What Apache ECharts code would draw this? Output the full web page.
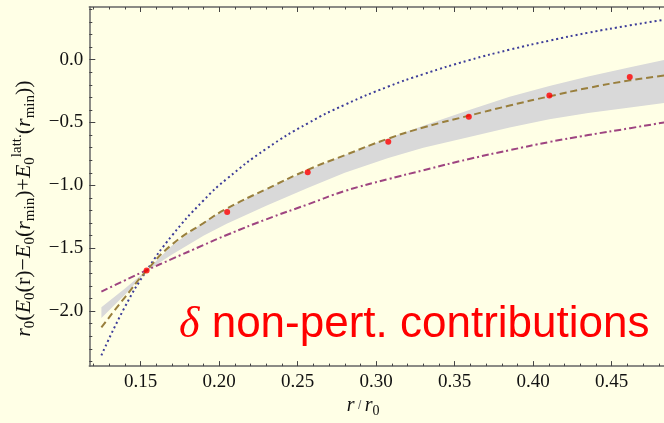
<!DOCTYPE html>
<html lang="en">
<head>
<meta charset="UTF-8">
<title>non-pert. contributions</title>
<script src="https://cdn.jsdelivr.net/npm/echarts@6/dist/echarts.min.js"></script>
<style>
  html, body { margin: 0; padding: 0; background: #ffffe6; }
</style>
</head>
<body>
<div id="main" style="width:664px;height:423px;"></div>
<script>
// r / r0 sample positions for the curves
var rGrid = [0.125, 0.14, 0.1538, 0.17, 0.19, 0.2048, 0.23, 0.2567, 0.28, 0.3077,
             0.33, 0.3593, 0.385, 0.4103, 0.435, 0.4617, 0.49];
// blue dotted curve
var blueCurve = [-2.352, -1.966, -1.678, -1.399, -1.120, -0.949, -0.709, -0.505, -0.359, -0.214,
                 -0.116, -0.004, 0.079, 0.151, 0.214, 0.273, 0.330];
// olive dashed curve
var oliveCurve = [-2.13, -1.89, -1.678, -1.47, -1.30, -1.185, -1.03, -0.875, -0.76, -0.628,
                  -0.54, -0.445, -0.365, -0.292, -0.225, -0.165, -0.115];
// purple dash-dot curve
var purpleCurve = [-1.845, -1.755, -1.675, -1.585, -1.475, -1.395, -1.27, -1.15, -1.045, -0.95,
                   -0.88, -0.79, -0.72, -0.655, -0.60, -0.545, -0.485];
// gray band edges
var bandUpper = [-1.97, -1.82, -1.678, -1.478, -1.295, -1.185, -1.03, -0.88, -0.76, -0.625,
                 -0.525, -0.40, -0.295, -0.21, -0.135, -0.06, 0.015];
var bandLower = [-2.055, -1.87, -1.682, -1.55, -1.40, -1.306, -1.162, -1.018, -0.90, -0.782,
                 -0.70, -0.615, -0.54, -0.475, -0.425, -0.38, -0.335];
// lattice points
var latticeR = [0.1538, 0.2051, 0.2564, 0.3077, 0.3590, 0.4103, 0.4615];
var latticeE = [-1.678, -1.212, -0.895, -0.654, -0.455, -0.285, -0.138];

// ticks
var xMajor = [0.15, 0.20, 0.25, 0.30, 0.35, 0.40, 0.45];
var xMinor = [0.12, 0.13, 0.14, 0.16, 0.17, 0.18, 0.19, 0.21, 0.22, 0.23, 0.24, 0.26, 0.27, 0.28, 0.29,
              0.31, 0.32, 0.33, 0.34, 0.36, 0.37, 0.38, 0.39, 0.41, 0.42, 0.43, 0.44, 0.46, 0.47, 0.48];
var yMajor = [-2.0, -1.5, -1.0, -0.5, 0.0];
var yMinor = [-2.4, -2.3, -2.2, -2.1, -1.9, -1.8, -1.7, -1.6, -1.4, -1.3, -1.2, -1.1,
              -0.9, -0.8, -0.7, -0.6, -0.4, -0.3, -0.2, -0.1, 0.1, 0.2, 0.3, 0.4];

var xMin = 0.1173, xMax = 0.4833;
var yMin = -2.4375, yMax = 0.4187;

function pairs(xs, ys) {
    var res = [];
    for (var i = 0; i < xs.length; i++) res.push([xs[i], ys[i]]);
    return res;
}

var axisColor = '#666';
var serif = 'Liberation Serif';

function xAxisDef(pos, ticks, len, showLine, withLabels) {
    return {
        type: 'value', min: xMin, max: xMax, position: pos,
        axisLine: { show: showLine, onZero: false, lineStyle: { color: axisColor, width: 1.5 } },
        axisTick: { show: true, inside: true, length: len, customValues: ticks,
                    lineStyle: { color: '#444', width: 1 } },
        axisLabel: withLabels ? {
            customValues: ticks, margin: 6, color: '#111', fontFamily: serif, fontSize: 19,
            formatter: function (v) { return v.toFixed(2); }
        } : { show: false },
        splitLine: { show: false }
    };
}
function yAxisDef(pos, ticks, len, showLine, withLabels) {
    return {
        type: 'value', min: yMin, max: yMax, position: pos,
        axisLine: { show: showLine, onZero: false, lineStyle: { color: axisColor, width: 1.5 } },
        axisTick: { show: true, inside: true, length: len, customValues: ticks,
                    lineStyle: { color: '#444', width: 1 } },
        axisLabel: withLabels ? {
            customValues: ticks, margin: 6, color: '#111', fontFamily: serif, fontSize: 19,
            formatter: function (v) { return v.toFixed(1).replace('-', '\u2212'); }
        } : { show: false },
        splitLine: { show: false }
    };
}

var xBottom = xAxisDef('bottom', xMajor, 5, true, true);
xBottom.name = '{i|r} / {i|r}{sub|0}';
xBottom.nameLocation = 'middle';
xBottom.nameGap = 26;
xBottom.nameTextStyle = {
    padding: [0, 27, 0, 0],
    rich: {
        i: { fontFamily: serif, fontStyle: 'italic', fontSize: 20, color: '#111', lineHeight: 24 },
        sub: { fontFamily: serif, fontSize: 14, color: '#111', lineHeight: 14, verticalAlign: 'bottom' }
    }
};

var yLeft = yAxisDef('left', yMajor, 6, true, true);
yLeft.name = '{i|r}{sub|0}{n|(}{i|E}{sub|0}{n|(r)\u2212}{i|E}{sub|0}{n|(}{i|r}{sub|min}{n|)+}' +
             '{i|E}{sub|0}{sup|latt.}{n|(}{i|r}{sub|min}{n|))}';
yLeft.nameLocation = 'middle';
yLeft.nameRotate = 90;
yLeft.nameGap = 44;
yLeft.nameTextStyle = {
    padding: [0, 44, 0, 0],
    rich: {
        i: { fontFamily: serif, fontStyle: 'italic', fontSize: 22, color: '#111', lineHeight: 28 },
        n: { fontFamily: serif, fontSize: 22, color: '#111', lineHeight: 28 },
        sub: { fontFamily: serif, fontSize: 15, color: '#111', lineHeight: 15, verticalAlign: 'bottom' },
        sup: { fontFamily: serif, fontSize: 15, color: '#111', lineHeight: 15, verticalAlign: 'top' }
    }
};

// gray band drawn as one polygon: upper edge forward, lower edge back
function renderBand(params, api) {
    var pts = [];
    for (var i = 0; i < rGrid.length; i++) pts.push(api.coord([rGrid[i], bandUpper[i]]));
    for (var j = rGrid.length - 1; j >= 0; j--) pts.push(api.coord([rGrid[j], bandLower[j]]));
    return {
        type: 'polygon',
        shape: { points: pts },
        style: { fill: '#d9d9d9', stroke: null }
    };
}

var chart = echarts.init(document.getElementById('main'));
chart.setOption({
    backgroundColor: '#ffffe6',
    animation: false,
    title: {
        text: '{d|\u03b4} non-pert. contributions',
        left: 179, top: 300, padding: 0,
        textStyle: {
            color: '#ff0000', fontFamily: 'Liberation Sans', fontSize: 44, fontWeight: 'normal', lineHeight: 50,
            rich: {
                d: { fontFamily: serif, fontStyle: 'italic', fontSize: 44, color: '#ff0000', lineHeight: 50 }
            }
        }
    },
    grid: { left: 89.3, right: 0, top: 7, bottom: 52.3, containLabel: false },
    xAxis: [
        xBottom,
        xAxisDef('bottom', xMinor, 2.5, false, false),
        xAxisDef('top', xMajor, 5, true, false),
        xAxisDef('top', xMinor, 2.5, false, false)
    ],
    yAxis: [
        yLeft,
        yAxisDef('left', yMinor, 3, false, false)
    ],
    series: [
        {
            type: 'custom', renderItem: renderBand, data: [[rGrid[0], bandUpper[0]]],
            clip: true, silent: true, z: 1
        },
        {
            type: 'line', data: pairs(rGrid, purpleCurve), smooth: true, symbol: 'none',
            lineStyle: { color: '#9e4480', width: 2, type: [7, 3, 2, 3] }, z: 2
        },
        {
            type: 'line', data: pairs(rGrid, blueCurve), smooth: true, symbol: 'none',
            lineStyle: { color: '#3d3d99', width: 2, type: [2, 3] }, z: 2
        },
        {
            type: 'line', data: pairs(rGrid, oliveCurve), smooth: true, symbol: 'none',
            lineStyle: { color: '#997f3d', width: 2, type: [7, 4] }, z: 2
        },
        {
            type: 'scatter', data: pairs(latticeR, latticeE), symbol: 'circle', symbolSize: 6,
            itemStyle: { color: '#ff0000' }, z: 5
        }
    ]
});
</script>
</body>
</html>
